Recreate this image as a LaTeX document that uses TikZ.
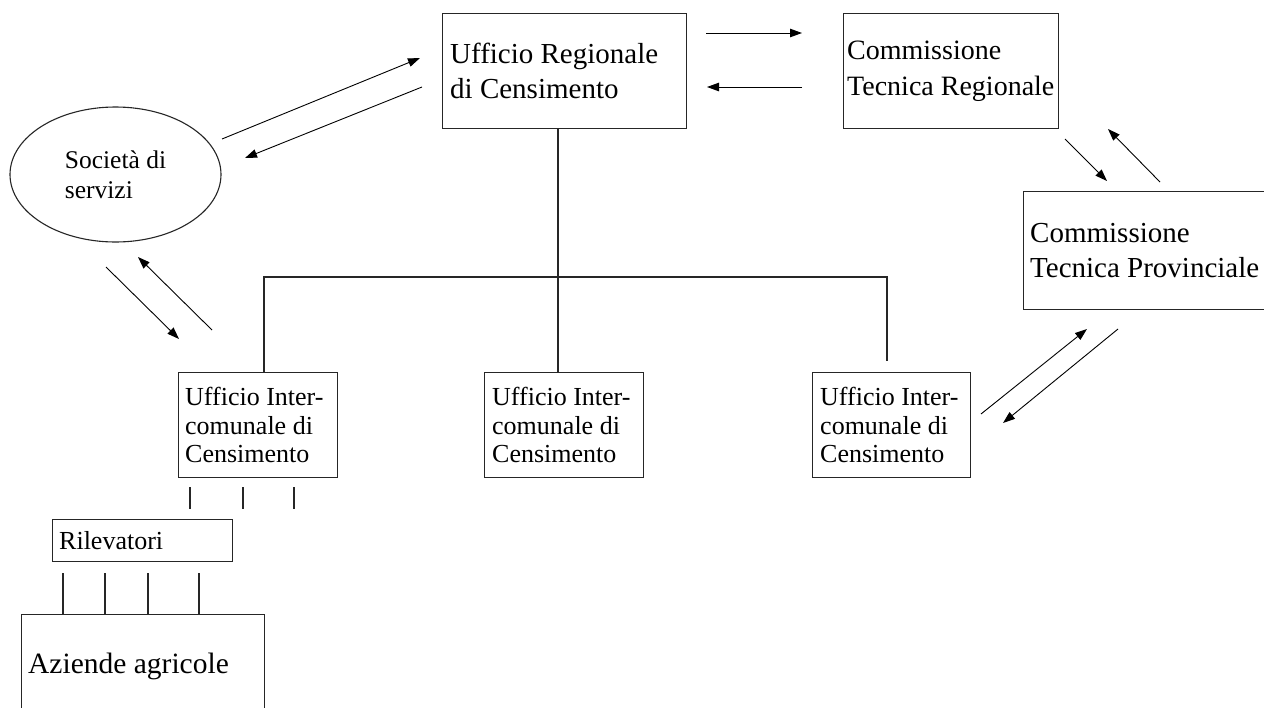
\documentclass[tikz,border=0pt]{standalone}
\usepackage{fontspec}
\setmainfont{Liberation Serif}
\usetikzlibrary{arrows.meta,shapes.geometric}
\begin{document}
\begin{tikzpicture}[x=1pt,y=-1pt,
  boxnode/.style={draw=black!85, line width=1.3pt, rectangle, inner sep=0pt, anchor=north west},
  bigtxt/.style={inner sep=0pt, align=left, anchor=west, font=\fontsize{29}{35}\selectfont},
  midtxt/.style={inner sep=0pt, align=left, anchor=west, font=\fontsize{26}{28.5}\selectfont},
  link/.style={draw=black!85, line width=1.3pt},
  flow/.style={draw=black, line width=0.9pt, -{Triangle[length=12pt,width=8.5pt]}},
  tick/.style={draw=black!85, line width=1.2pt}
]
\clip (0,0) rectangle (1264,707);
\fill[white] (0,0) rectangle (1264,707);

% main boxes
\node[boxnode, minimum width=244pt, minimum height=115pt] (urc) at (442,13) {};
\node[bigtxt] (urct) at ([xshift=8pt]urc.west) {Ufficio Regionale\\di Censimento};

\node[boxnode, minimum width=215pt, minimum height=115pt] (ctr) at (843,13) {};
\node[bigtxt, font=\fontsize{28}{36}\selectfont] (ctrt) at ([xshift=4pt]ctr.west) {Commissione\\Tecnica Regionale};

\node[boxnode, minimum width=290pt, minimum height=118pt] (ctp) at (1023,191) {};
\node[bigtxt] (ctpt) at ([xshift=7pt]ctp.west) {Commissione\\Tecnica Provinciale};

\node[draw=black!85, line width=1.1pt, ellipse, minimum width=211pt, minimum height=135pt, inner sep=0pt,
      align=left, font=\fontsize{25.5}{30}\selectfont] (soc) at (115.5,174.5) {Società di\\servizi};

\node[boxnode, minimum width=159pt, minimum height=105pt] (uic1) at (178,372) {};
\node[midtxt] (uic1t) at ([xshift=7pt]uic1.west) {Ufficio Inter-\\comunale di\\Censimento};

\node[boxnode, minimum width=159pt, minimum height=105pt] (uic2) at (484,372) {};
\node[midtxt] (uic2t) at ([xshift=8pt]uic2.west) {Ufficio Inter-\\comunale di\\Censimento};

\node[boxnode, minimum width=158pt, minimum height=105pt] (uic3) at (812,372) {};
\node[midtxt] (uic3t) at ([xshift=8pt]uic3.west) {Ufficio Inter-\\comunale di\\Censimento};

\node[boxnode, minimum width=180pt, minimum height=42pt] (ril) at (52,519) {};
\node[midtxt] (rilt) at ([xshift=7pt]ril.west) {Rilevatori};

\node[boxnode, minimum width=243pt, minimum height=120pt] (az) at (21,614) {};
\node[inner sep=0pt, anchor=base west, font=\fontsize{29.5}{35}\selectfont] (azt) at (28,673) {Aziende agricole};

% tree connectors
\coordinate (hl) at (264,277);
\coordinate (hr) at (887,277);
\coordinate (rend) at (887,361);
\draw[link] (urc.south -| 558,0) -- (558,372);
\draw[link] (hl |- uic1.north) -- (hl) -- (hr) -- (rend);

% ticks under left office
\foreach \x in {190,243,294} \draw[tick] (\x,487) -- (\x,509);
% lines from Rilevatori to Aziende
\foreach \x in {63,105,148,199} \draw[tick] (\x,573) -- (\x,614);

% flow arrows
\coordinate (a1s) at (706,33);  \coordinate (a1e) at (802,33);
\coordinate (a2s) at (802,87);  \coordinate (a2e) at (707,87);
\coordinate (a3s) at (222,139); \coordinate (a3e) at (420,58);
\coordinate (a4s) at (422,87);  \coordinate (a4e) at (245,158);
\coordinate (a5s) at (106,267); \coordinate (a5e) at (179,339);
\coordinate (a6s) at (212,330); \coordinate (a6e) at (138,257);
\coordinate (a7s) at (1065,139); \coordinate (a7e) at (1107,181);
\coordinate (a8s) at (1160,182); \coordinate (a8e) at (1108,129);
\coordinate (a9s) at (981,414); \coordinate (a9e) at (1087,329);
\coordinate (a10s) at (1118,329); \coordinate (a10e) at (1003,423);
\foreach \i in {1,...,10} \draw[flow] (a\i s) -- (a\i e);
\end{tikzpicture}
\end{document}
